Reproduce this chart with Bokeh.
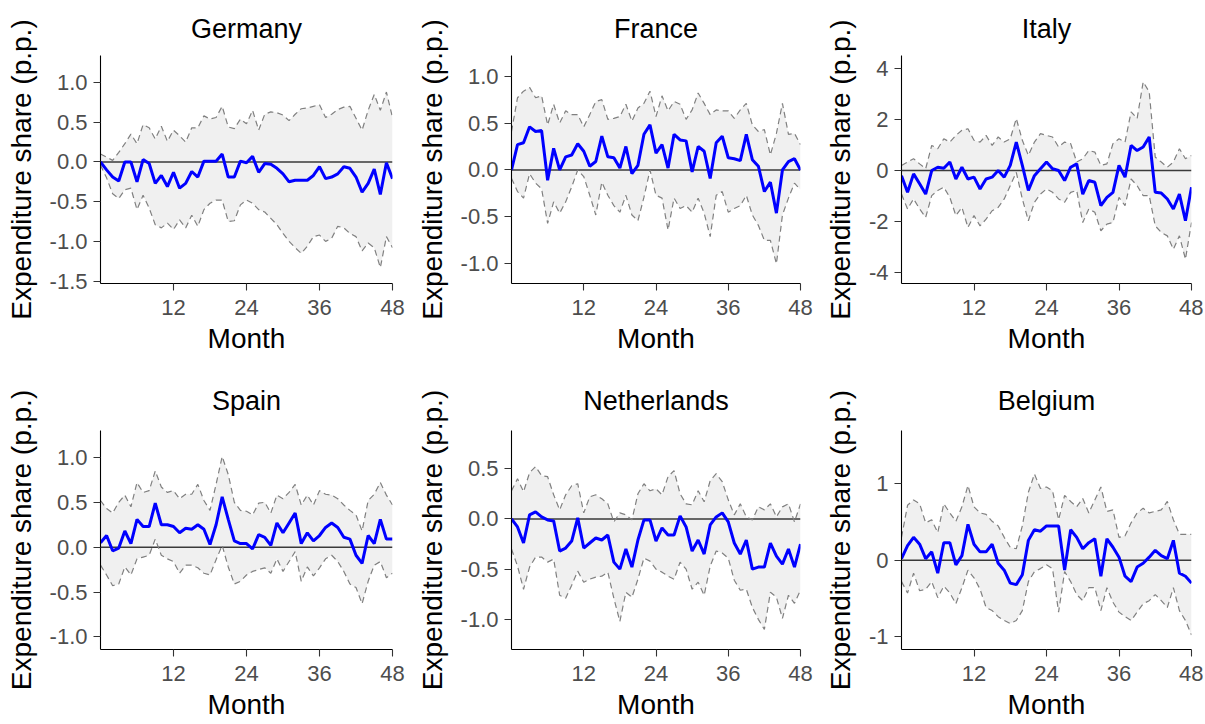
from bokeh.plotting import figure
from bokeh.layouts import row, column
from bokeh.models import Range1d, FixedTicker, PrintfTickFormatter, Span, ColumnDataSource
from bokeh.embed import file_html
from bokeh.resources import INLINE

FONT = "Liberation Sans"

months = list(range(49))
x_ticks = [12, 24, 36, 48]

de_mean = [0.0, -0.10, -0.19, -0.24, 0.0, 0.0, -0.25, 0.03, -0.02, -0.27,
           -0.17, -0.31, -0.13, -0.33, -0.27, -0.12, -0.19, 0.01, 0.01, 0.01,
           0.10, -0.19, -0.19, 0.01, -0.01, 0.07, -0.13, -0.02, -0.03, -0.08,
           -0.15, -0.25, -0.23, -0.23, -0.23, -0.17, -0.06, -0.21, -0.19, -0.15,
           -0.06, -0.08, -0.19, -0.38, -0.27, -0.09, -0.41, -0.01, -0.21]
de_lo = [-0.04, -0.20, -0.40, -0.46, -0.35, -0.33, -0.60, -0.42, -0.58, -0.79,
         -0.83, -0.77, -0.85, -0.73, -0.83, -0.67, -0.81, -0.60, -0.52, -0.48,
         -0.48, -0.75, -0.74, -0.54, -0.48, -0.52, -0.60, -0.63, -0.71, -0.79,
         -0.90, -1.00, -1.08, -1.15, -1.06, -0.94, -0.92, -1.00, -0.96, -0.81,
         -0.83, -0.90, -0.94, -1.12, -1.02, -1.08, -1.33, -0.94, -1.08]
de_hi = [0.10, 0.06, 0.02, 0.12, 0.23, 0.35, 0.23, 0.47, 0.43, 0.29,
         0.45, 0.26, 0.40, 0.33, 0.25, 0.43, 0.43, 0.58, 0.54, 0.56,
         0.70, 0.44, 0.42, 0.54, 0.48, 0.65, 0.40, 0.60, 0.63, 0.62,
         0.59, 0.52, 0.60, 0.67, 0.68, 0.70, 0.72, 0.56, 0.60, 0.66,
         0.69, 0.70, 0.55, 0.40, 0.65, 0.85, 0.65, 0.88, 0.56]

fr_mean = [0.0, 0.27, 0.29, 0.46, 0.41, 0.42, -0.11, 0.23, 0.0, 0.14,
           0.16, 0.28, 0.20, 0.04, 0.09, 0.36, 0.14, 0.13, 0.02, 0.25,
           -0.04, 0.05, 0.38, 0.48, 0.18, 0.27, 0.02, 0.38, 0.32, 0.31,
           -0.02, 0.25, 0.20, -0.09, 0.29, 0.36, 0.13, 0.12, 0.10, 0.38,
           0.11, 0.04, -0.23, -0.13, -0.46, 0.0, 0.09, 0.12, 0.0]
fr_lo = [-0.09, -0.23, -0.30, -0.04, -0.14, -0.20, -0.57, -0.34, -0.46, -0.34,
         -0.18, 0.0, -0.07, -0.27, -0.48, -0.13, -0.27, -0.38, -0.45, -0.27,
         -0.48, -0.54, -0.29, 0.0, -0.27, -0.30, -0.64, -0.30, -0.41, -0.38,
         -0.45, -0.30, -0.46, -0.71, -0.27, -0.23, -0.45, -0.41, -0.38, -0.27,
         -0.48, -0.59, -0.75, -0.75, -1.00, -0.48, -0.30, -0.14, -0.21]
fr_hi = [0.41, 0.77, 0.84, 0.88, 0.77, 0.79, 0.48, 0.70, 0.50, 0.63,
         0.59, 0.59, 0.46, 0.59, 0.73, 0.75, 0.54, 0.55, 0.57, 0.70,
         0.52, 0.66, 0.71, 0.84, 0.57, 0.79, 0.63, 0.73, 0.70, 0.54,
         0.64, 0.82, 0.71, 0.59, 0.64, 0.63, 0.63, 0.55, 0.64, 0.71,
         0.48, 0.41, 0.43, 0.16, 0.39, 0.71, 0.38, 0.39, 0.27]

it_mean = [-0.20, -0.85, -0.13, -0.52, -0.92, 0.0, 0.13, 0.09, 0.33, -0.33,
           0.13, -0.33, -0.26, -0.72, -0.33, -0.26, 0.0, -0.26, 0.20, 1.11,
           0.20, -0.78, -0.20, 0.07, 0.33, 0.07, 0.0, -0.39, 0.13, 0.26,
           -0.92, -0.39, -0.46, -1.37, -1.05, -0.85, 0.20, -0.26, 0.98, 0.78,
           0.92, 1.31, -0.85, -0.88, -1.11, -1.50, -0.92, -1.96, -0.65]
it_lo = [-0.92, -1.50, -1.11, -1.50, -1.83, -0.98, -0.78, -0.65, -1.05, -1.76,
         -1.44, -2.22, -1.76, -2.16, -1.90, -1.57, -1.44, -1.11, -0.59, -0.07,
         -1.11, -1.96, -1.24, -0.92, -0.72, -0.85, -1.11, -1.24, -0.85, -0.78,
         -2.03, -1.50, -1.63, -2.35, -2.09, -2.03, -1.05, -1.37, -0.33, -0.59,
         -0.98, -0.98, -2.16, -2.42, -2.55, -3.07, -2.55, -3.46, -2.03]
it_hi = [0.20, 0.33, 0.46, 0.26, 0.07, 0.98, 0.85, 1.24, 1.11, 1.37,
         1.57, 1.63, 1.18, 1.11, 1.37, 0.98, 1.31, 1.11, 1.24, 2.03,
         1.18, 0.59, 1.11, 1.44, 1.37, 1.31, 0.92, 1.11, 1.05, 0.33,
         0.46, 0.78, 0.72, 0.20, 0.26, 1.05, 1.24, 1.11, 2.29, 2.03,
         3.46, 3.07, 0.52, 0.33, 0.13, 0.33, 0.85, 0.46, 0.59]

es_mean = [0.05, 0.13, -0.04, -0.01, 0.18, 0.04, 0.31, 0.23, 0.23, 0.49,
           0.25, 0.25, 0.23, 0.16, 0.21, 0.20, 0.25, 0.20, 0.03, 0.25,
           0.56, 0.31, 0.07, 0.04, 0.04, -0.02, 0.14, 0.11, 0.02, 0.27,
           0.16, 0.27, 0.38, 0.04, 0.16, 0.07, 0.13, 0.22, 0.27, 0.22,
           0.11, 0.09, -0.09, -0.18, 0.13, 0.04, 0.31, 0.09, 0.09]
es_lo = [-0.20, -0.31, -0.43, -0.41, -0.22, -0.31, -0.13, -0.11, -0.09, 0.09,
         -0.09, -0.13, -0.16, -0.29, -0.20, -0.20, -0.23, -0.29, -0.31, -0.14,
         0.02, -0.22, -0.41, -0.38, -0.31, -0.27, -0.25, -0.23, -0.29, -0.13,
         -0.27, -0.16, -0.05, -0.38, -0.22, -0.32, -0.23, -0.13, -0.09, -0.16,
         -0.27, -0.41, -0.45, -0.63, -0.38, -0.20, -0.16, -0.34, -0.29]
es_hi = [0.52, 0.43, 0.38, 0.50, 0.58, 0.45, 0.72, 0.61, 0.63, 0.85,
         0.67, 0.61, 0.63, 0.54, 0.59, 0.59, 0.70, 0.52, 0.41, 0.70,
         1.01, 0.81, 0.50, 0.41, 0.40, 0.36, 0.49, 0.50, 0.38, 0.58,
         0.54, 0.61, 0.70, 0.47, 0.58, 0.47, 0.63, 0.59, 0.58, 0.54,
         0.47, 0.41, 0.36, 0.18, 0.52, 0.59, 0.72, 0.58, 0.47]

nl_mean = [0.0, -0.08, -0.24, 0.04, 0.07, 0.02, -0.01, -0.02, -0.32, -0.29,
           -0.22, 0.01, -0.29, -0.24, -0.19, -0.21, -0.16, -0.43, -0.50, -0.30,
           -0.48, -0.21, -0.01, -0.01, -0.22, -0.09, -0.16, -0.16, 0.03, -0.08,
           -0.32, -0.21, -0.35, -0.06, 0.02, 0.06, -0.03, -0.24, -0.35, -0.21,
           -0.50, -0.48, -0.48, -0.24, -0.37, -0.45, -0.30, -0.48, -0.25]
nl_lo = [-0.30, -0.47, -0.70, -0.48, -0.38, -0.38, -0.43, -0.40, -0.76, -0.79,
         -0.66, -0.52, -0.63, -0.60, -0.58, -0.57, -0.53, -0.79, -1.02, -0.73,
         -0.78, -0.60, -0.39, -0.42, -0.50, -0.53, -0.57, -0.60, -0.43, -0.50,
         -0.70, -0.63, -0.76, -0.47, -0.32, -0.34, -0.39, -0.61, -0.71, -0.70,
         -0.88, -1.00, -1.10, -0.73, -0.78, -0.99, -0.76, -0.84, -0.71]
nl_hi = [0.28, 0.40, 0.27, 0.46, 0.52, 0.43, 0.42, 0.24, 0.09, 0.24,
         0.33, 0.35, 0.06, 0.22, 0.24, 0.20, 0.15, -0.03, 0.06, 0.04,
         -0.01, 0.25, 0.35, 0.28, 0.30, 0.24, 0.42, 0.48, 0.25, 0.15,
         0.14, 0.28, 0.17, 0.38, 0.45, 0.37, 0.19, 0.04, 0.15, 0.02,
         -0.01, 0.12, 0.09, 0.15, 0.02, 0.12, 0.15, -0.03, 0.15]

be_mean = [0.02, 0.19, 0.30, 0.21, 0.02, 0.11, -0.17, 0.23, 0.23, -0.06,
           0.06, 0.47, 0.21, 0.11, 0.11, 0.21, -0.04, -0.13, -0.30, -0.32,
           -0.19, 0.26, 0.40, 0.38, 0.45, 0.45, 0.45, -0.13, 0.40, 0.30,
           0.15, 0.23, 0.28, -0.21, 0.28, 0.17, 0.04, -0.21, -0.28, -0.09,
           -0.04, 0.04, 0.13, 0.06, 0.02, 0.26, -0.17, -0.21, -0.30]
be_lo = [-0.28, -0.43, -0.17, -0.40, -0.38, -0.28, -0.49, -0.34, -0.43, -0.57,
         -0.36, -0.13, -0.23, -0.38, -0.62, -0.66, -0.74, -0.79, -0.83, -0.79,
         -0.66, -0.28, -0.15, -0.11, -0.06, -0.11, -0.68, -0.15, -0.28, -0.45,
         -0.53, -0.36, -0.36, -0.66, -0.36, -0.55, -0.68, -0.74, -0.79, -0.68,
         -0.57, -0.53, -0.45, -0.53, -0.62, -0.36, -0.66, -0.79, -0.98]
be_hi = [0.30, 0.72, 0.79, 0.74, 0.49, 0.53, 0.36, 0.74, 0.62, 0.51,
         0.70, 0.98, 0.70, 0.62, 0.60, 0.51, 0.45, 0.30, 0.17, 0.15,
         0.45, 0.89, 1.13, 0.94, 0.96, 0.91, 0.53, 0.85, 0.77, 0.70,
         0.81, 0.62, 0.79, 0.96, 0.64, 0.66, 0.30, 0.32, 0.49, 0.62,
         0.68, 0.62, 0.64, 0.66, 0.77, 0.53, 0.34, 0.34, 0.34]

de_yticks = [-1.5, -1.0, -0.5, 0.0, 0.5, 1.0]
fr_yticks = [-1.0, -0.5, 0.0, 0.5, 1.0]
it_yticks = [-4, -2, 0, 2, 4]
es_yticks = [-1.0, -0.5, 0.0, 0.5, 1.0]
nl_yticks = [-1.0, -0.5, 0.0, 0.5]
be_yticks = [-1, 0, 1]


def make(title, mean, lo, hi, yr, yticks, fmt, width, height, bl, br, bt, bb, tstand):
    p = figure(width=width, height=height, output_backend="svg", toolbar_location=None,
               x_range=Range1d(0, 48), y_range=Range1d(*yr),
               min_border_left=bl, min_border_right=br, min_border_top=bt, min_border_bottom=bb)
    p.title.text = title
    p.title.align = "center"
    p.title.text_font = FONT
    p.title.text_font_size = "27px"
    p.title.text_font_style = "normal"
    p.title.text_color = "black"
    p.title.standoff = tstand
    p.outline_line_color = None
    p.xgrid.visible = False
    p.ygrid.visible = False
    p.background_fill_color = "white"
    p.border_fill_color = "white"
    p.xaxis.axis_label = "Month"
    p.yaxis.axis_label = "Expenditure share (p.p.)"
    p.xaxis.ticker = FixedTicker(ticks=x_ticks)
    p.yaxis.ticker = FixedTicker(ticks=yticks)
    p.yaxis.formatter = PrintfTickFormatter(format=fmt)
    for ax in (p.xaxis[0], p.yaxis[0]):
        ax.axis_line_color = "black"
        ax.axis_line_width = 1.1
        ax.major_tick_line_color = "#333333"
        ax.major_tick_line_width = 1.1
        ax.major_tick_out = 7
        ax.major_tick_in = 0
        ax.minor_tick_line_color = None
        ax.major_label_text_font = FONT
        ax.major_label_text_font_size = "22px"
        ax.major_label_text_color = "#4D4D4D"
        ax.axis_label_text_font = FONT
        ax.axis_label_text_font_size = "28px"
        ax.axis_label_text_font_style = "normal"
        ax.axis_label_text_color = "black"
    p.xaxis.major_label_standoff = 9
    p.xaxis.axis_label_standoff = 5
    p.yaxis.major_label_standoff = 6
    p.yaxis.axis_label_standoff = 10
    src = ColumnDataSource(dict(month=months, mean=mean, lo=lo, hi=hi))
    p.varea(x="month", y1="lo", y2="hi", source=src, fill_color="#F0F0F0", level="image")
    p.add_layout(Span(location=0, dimension="width", line_color="#3a3a3a",
                      line_width=1.5, level="underlay"))
    p.line(x="month", y="lo", source=src, line_color="#808080", line_width=1.2, line_dash="6 4")
    p.line(x="month", y="hi", source=src, line_color="#808080", line_width=1.2, line_dash="6 4")
    p.line(x="month", y="mean", source=src, line_color="#0000FF", line_width=3)
    return p


H1, H2 = 366, 358
p1 = make("Germany", de_mean, de_lo, de_hi, (-1.53, 1.34), de_yticks, "%.1f", 410, H1, 100, 18, 55, 83, 23)
p2 = make("France", fr_mean, fr_lo, fr_hi, (-1.21, 1.22), fr_yticks, "%.1f", 408, H1, 101, 18, 55, 83, 23)
p3 = make("Italy", it_mean, it_lo, it_hi, (-4.41, 4.49), it_yticks, "%d", 385, H1, 83, 12, 55, 83, 23)
p4 = make("Spain", es_mean, es_lo, es_hi, (-1.14, 1.30), es_yticks, "%.1f", 410, H2, 100, 18, 64, 75, 30)
p5 = make("Netherlands", nl_mean, nl_lo, nl_hi, (-1.30, 0.88), nl_yticks, "%.1f", 408, H2, 101, 18, 64, 75, 30)
p6 = make("Belgium", be_mean, be_lo, be_hi, (-1.17, 1.70), be_yticks, "%d", 385, H2, 83, 12, 64, 75, 30)

layout = column(row(p1, p2, p3), row(p4, p5, p6))
open("out.html", "w").write(file_html(layout, INLINE))
